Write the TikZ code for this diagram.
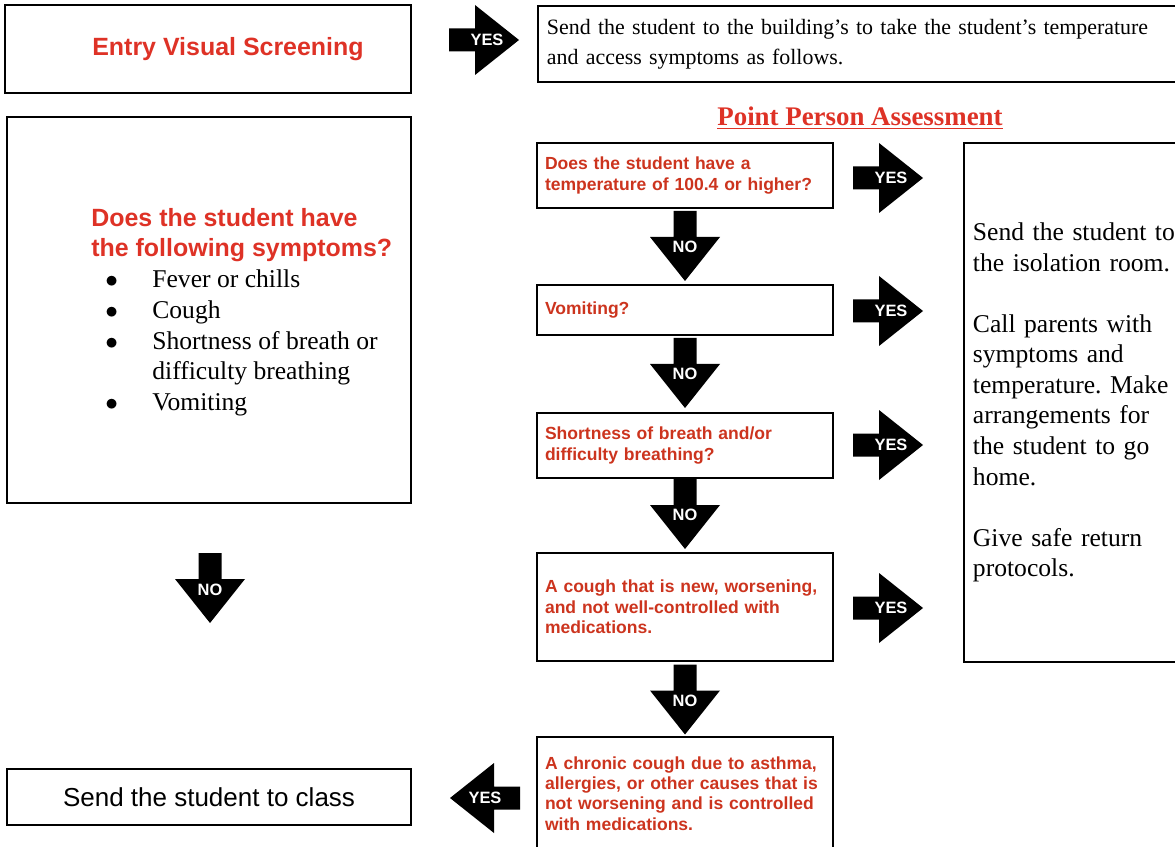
\documentclass[tikz,border=0pt]{standalone}
\usepackage{fontspec}
\setmainfont{Liberation Serif}
\setsansfont{Liberation Sans}
\usepackage{array}
\frenchspacing

\definecolor{hdred}{RGB}{222,50,38}
\definecolor{askred}{RGB}{204,52,30}
\newdimen\pxu \pxu=0.02cm
\newcommand\askfont{\sffamily\bfseries\fontsize{9.98}{11.6}\selectfont}
\newcommand\arrowfont{\sffamily\bfseries\fontsize{9.35}{10}\selectfont}
\newcommand\notefont{\fontsize{14.57}{17.4}\selectfont}

\tikzset{
  box/.style={draw, line width=1.1pt, inner sep=0pt},
  askbox/.style={box, minimum width=296\pxu, text width=280\pxu, inner xsep=8\pxu,
    align=left, font=\askfont, text=askred},
  lbl/.style={text=white, font=\arrowfont, inner sep=0pt},
  fatarrow/.pic={\fill (-35,-11.5) -- (-9,-11.5) -- (-9,-35) -- (35,0) -- (-9,35) -- (-9,11.5) -- (-35,11.5) -- cycle;}
}

\begin{document}
\begin{tikzpicture}[x=0.02cm, y=-0.02cm]
  \useasboundingbox (0,0) rectangle (1175,847);

  \node[box, minimum width=406\pxu, minimum height=88\pxu, text=hdred,
    font=\sffamily\bfseries\fontsize{14.2}{17}\selectfont] (entry) at (208,49) {\hspace*{40\pxu}Entry Visual Screening};

  \node[box, anchor=north west, minimum width=643\pxu, minimum height=76\pxu, text width=625\pxu,
    inner xsep=9\pxu, align=left, font=\fontsize{12.47}{17}\selectfont] (sendtemp) at (537,5)
    {Send the student to the building's to take the student's temperature\\and access symptoms as follows.};

  \node[box, minimum width=404\pxu, minimum height=386\pxu] (symbox) at (209,310) {};
  \node[anchor=west, inner sep=0pt, align=left, text=hdred,
    font=\sffamily\bfseries\fontsize{14.2}{17}\selectfont] (symq) at (91,235.5)
    {Does the student have\\the following symptoms?};
  \node[anchor=west, inner sep=0pt, font=\notefont] (symlist) at (105,343) {%
    \begin{tabular}{@{}p{47\pxu}@{}l@{}}
      $\bullet$ & Fever or chills\\
      $\bullet$ & Cough\\
      $\bullet$ & Shortness of breath or\\
                & difficulty breathing\\
      $\bullet$ & Vomiting
    \end{tabular}};

  \node[box, minimum width=404\pxu, minimum height=56\pxu,
    font=\sffamily\fontsize{14.8}{17}\selectfont] (toclass) at (209,797) {Send the student to class};

  \node[text=hdred, font=\bfseries\fontsize{15.3}{18}\selectfont] (ppa) at (860,118) {\underline{Point Person Assessment}};

  \node[askbox, minimum height=65\pxu] (ask1) at (685,175.5) {Does the student have a\\temperature of 100.4 or higher?};
  \node[askbox, minimum height=50\pxu] (ask2) at (685,310) {Vomiting?};
  \node[askbox, minimum height=65\pxu] (ask3) at (685,445.5) {Shortness of breath and/or\\difficulty breathing?};
  \node[askbox, minimum height=108\pxu] (ask4) at (685,607) {A cough that is new, worsening,\\and not well-controlled with\\medications.};
  \node[askbox, minimum height=113\pxu] (ask5) at (685,793.5) {A chronic cough due to asthma,\\allergies, or other causes that is\\not worsening and is controlled\\with medications.};

  \node[box, anchor=north west, minimum height=519\pxu, text width=205\pxu, inner xsep=9\pxu,
    align=left, font=\notefont] (isolate) at (963,142)
    {Send the student to\\the isolation room.\\[17.4pt]Call parents with\\symptoms and\\temperature. Make\\arrangements for\\the student to go\\home.\\[17.4pt]Give safe return\\protocols.};

  \pic at (484,40) {fatarrow};
  \node[lbl] (yes0) at (487,40) {YES};

  \foreach \y [count=\i] in {178,311,445,608}{
    \pic at (888,\y) {fatarrow};
    \node[lbl] (yes\i) at (891,\y) {YES};
  }

  \foreach \y [count=\i] in {246,373,514,699.5}{
    \pic[rotate=-90] at (685,\y) {fatarrow};
    \node[lbl] (no\i) at (685,\y+1) {NO};
  }

  \pic[rotate=-90] at (210,588) {fatarrow};
  \node[lbl] (no0) at (210,590) {NO};

  \pic[rotate=180] at (485,798) {fatarrow};
  \node[lbl] (yes5) at (485,798) {YES};
\end{tikzpicture}
\end{document}
